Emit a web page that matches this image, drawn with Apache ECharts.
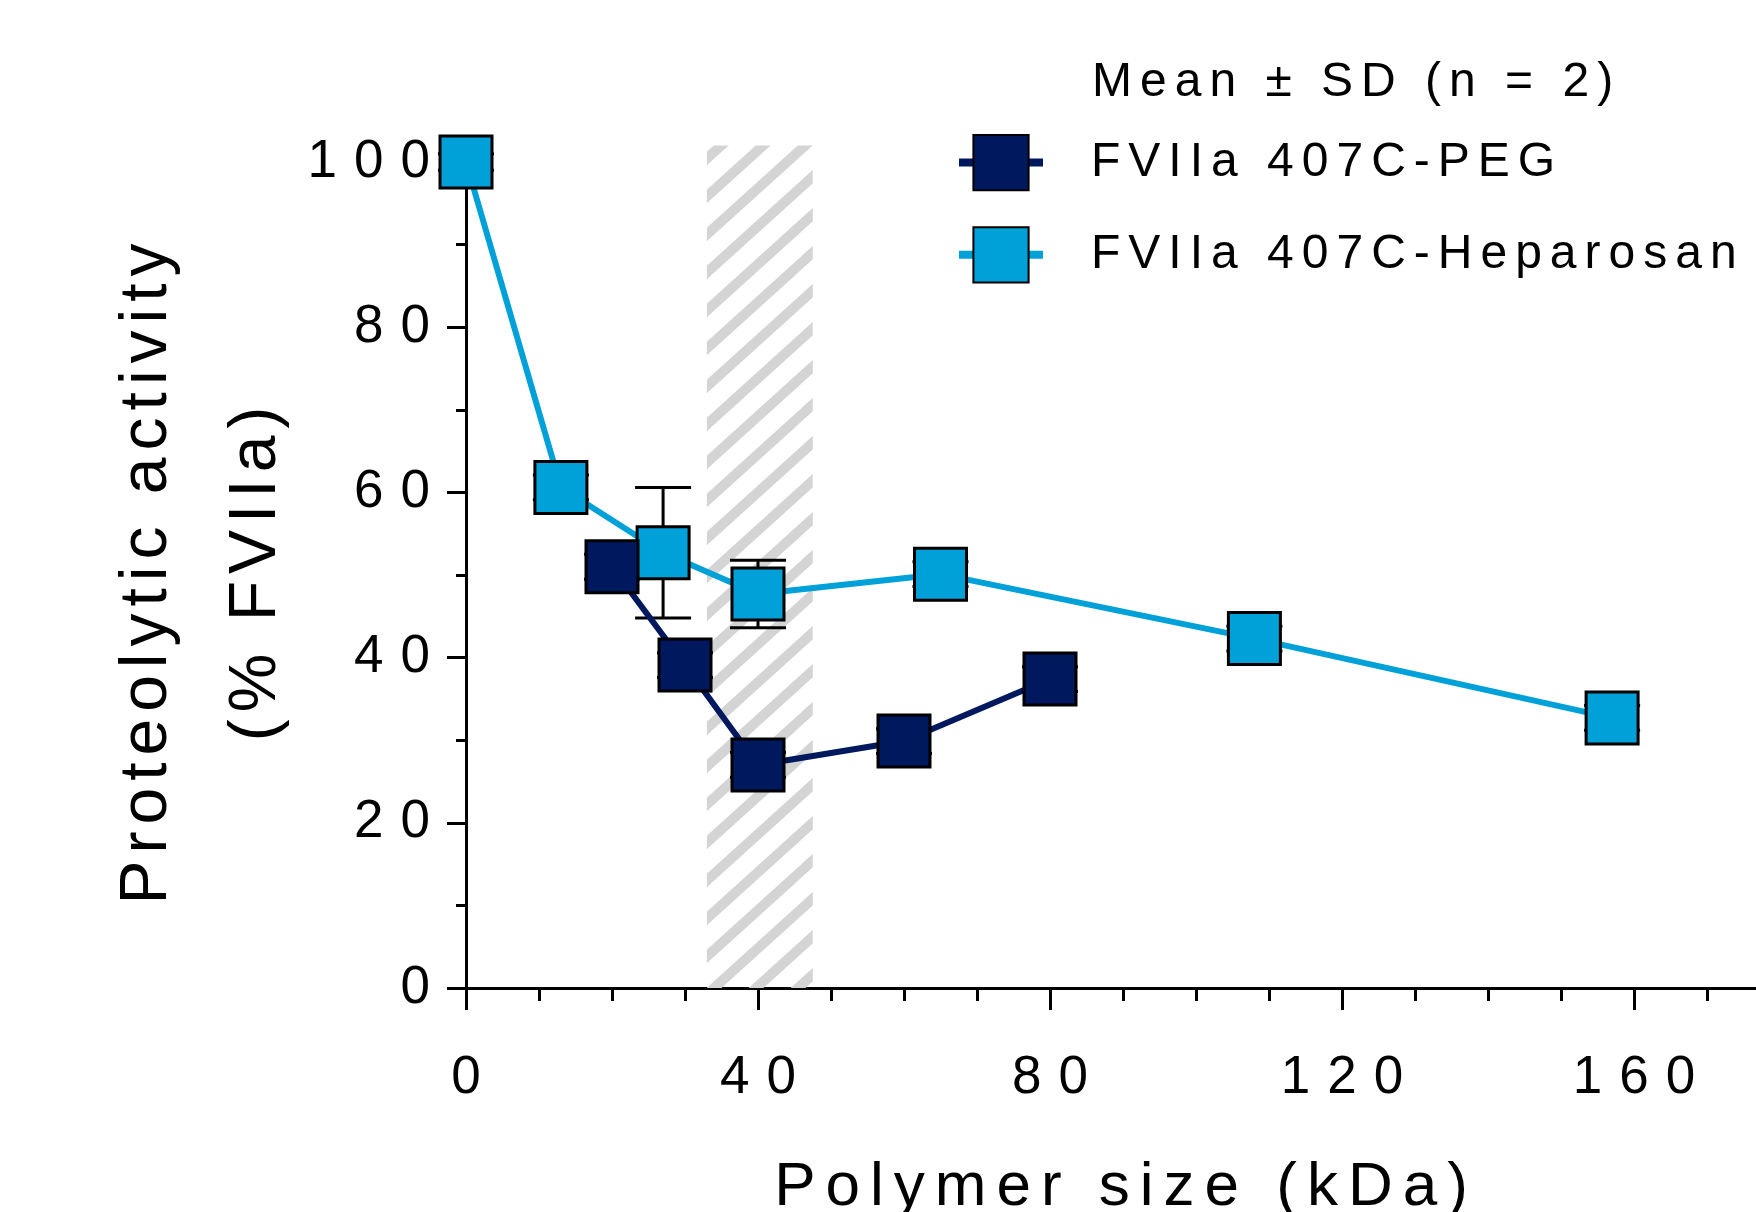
<!DOCTYPE html>
<html>
<head>
<meta charset="utf-8">
<title>Proteolytic activity vs polymer size</title>
<script src="https://cdn.jsdelivr.net/npm/echarts@6/dist/echarts.min.js"></script>
<style>
  html, body { margin: 0; padding: 0; background: #fff; }
  #chart { width: 1756px; height: 1212px; }
</style>
</head>
<body>
<div id="chart"></div>
<script>
// data
var pegSize = [20, 30, 40, 60, 80];
var pegMean = [51.0, 39.1, 27.0, 29.9, 37.4];
var pegSd = [1.5, 1.5, 1.5, 1.5, 1.5];

var hepSize = [0, 13, 27, 40, 65, 108, 157];
var hepMean = [100, 60.6, 52.7, 47.7, 50.1, 42.3, 32.7];
var hepSd = [1, 1.5, 7.9, 4.1, 1.5, 1.5, 1.5];

var band = [[33, 47.5, 102]];   // hatched region: from kDa, to kDa, top

var xTicks = { min: 0, max: 200, interval: 40 };
var yTicks = { min: 0, max: 100, interval: 20 };

var FONT = 'Liberation Sans';
var NAVY = '#00195e';
var CYAN = '#00a0d8';

// the figure uses wide letter spacing; canvas can do it, echarts has no option for it
var spacingBySize = { 53: 17, 66: 7, 62: 10, 48: 8 };
var fontDesc = Object.getOwnPropertyDescriptor(CanvasRenderingContext2D.prototype, 'font');
Object.defineProperty(CanvasRenderingContext2D.prototype, 'font', {
  get: function () { return fontDesc.get.call(this); },
  set: function (v) {
    fontDesc.set.call(this, v);
    if ('letterSpacing' in this) {
      var m = /(\d+(?:\.\d+)?)px/.exec(v);
      var s = m ? spacingBySize[Math.round(parseFloat(m[1]))] : 0;
      this.letterSpacing = (s || 0) + 'px';
    }
  }
});

function zip(xs, ys) {
  return xs.map(function (x, i) { return [x, ys[i]]; });
}
function errRows(xs, ys, sds) {
  return xs.map(function (x, i) { return [x, ys[i] - sds[i], ys[i] + sds[i]]; });
}

// hatch pattern for the band
var tile = document.createElement('canvas');
tile.width = 42; tile.height = 38;
var tc = tile.getContext('2d');
tc.strokeStyle = '#d4d4d4';
tc.lineWidth = 10;
tc.beginPath();
tc.moveTo(-11, 48); tc.lineTo(53, -10);
tc.moveTo(-11, 10); tc.lineTo(11, -10);
tc.moveTo(31, 48); tc.lineTo(53, 28);
tc.stroke();

function renderBand(params, api) {
  var a = api.coord([api.value(0), 0]);
  var b = api.coord([api.value(1), api.value(2)]);
  return {
    type: 'rect',
    shape: { x: a[0], y: b[1], width: b[0] - a[0], height: a[1] - b[1] },
    style: { fill: { image: tile, repeat: 'repeat' } }
  };
}

function renderErr(params, api) {
  var x = api.value(0);
  var lo = api.coord([x, api.value(1)]);
  var hi = api.coord([x, api.value(2)]);
  var w = 28;
  var st = { stroke: '#000', lineWidth: 3 };
  return {
    type: 'group',
    children: [
      { type: 'line', shape: { x1: lo[0], y1: lo[1], x2: hi[0], y2: hi[1] }, style: st },
      { type: 'line', shape: { x1: lo[0] - w, y1: lo[1], x2: lo[0] + w, y2: lo[1] }, style: st },
      { type: 'line', shape: { x1: hi[0] - w, y1: hi[1], x2: hi[0] + w, y2: hi[1] }, style: st }
    ]
  };
}

var chart = echarts.init(document.getElementById('chart'));

var option = {
  animation: false,
  backgroundColor: '#fff',
  textStyle: { fontFamily: FONT, color: '#000' },
  title: {
    text: 'Mean ± SD (n = 2)',
    left: 1092,
    top: 55,
    padding: 0,
    textStyle: { fontFamily: FONT, fontSize: 48, fontWeight: 'normal', color: '#000' }
  },
  legend: {
    data: ['FVIIa 407C-PEG', 'FVIIa 407C-Heparosan'],
    orient: 'vertical',
    left: 950,
    top: 129,
    itemWidth: 84,
    itemHeight: 69,
    itemGap: 35,
    lineStyle: { width: 8 },
    textStyle: { fontFamily: FONT, fontSize: 48, color: '#000', padding: [0, 0, 0, 43] }
  },
  grid: { left: 466, top: 162, bottom: 224, right: -170, outerBoundsMode: 'none' },
  xAxis: {
    type: 'value',
    min: xTicks.min,
    max: xTicks.max,
    interval: xTicks.interval,
    name: 'Polymer size (kDa)',
    nameLocation: 'middle',
    nameGap: 164,
    nameMoveOverlap: false,
    nameTextStyle: { fontFamily: FONT, fontSize: 62, color: '#000', padding: [0, 140, 0, 0] },
    axisLine: { lineStyle: { color: '#000', width: 3 } },
    axisTick: { length: 22, lineStyle: { color: '#000', width: 3 } },
    minorTick: { show: true, splitNumber: 4, length: 13, lineStyle: { color: '#000', width: 3 } },
    splitLine: { show: false },
    axisLabel: { fontFamily: FONT, fontSize: 53, color: '#000', margin: 55, padding: [0, 0, 0, 17] }
  },
  yAxis: {
    type: 'value',
    min: yTicks.min,
    max: yTicks.max,
    interval: yTicks.interval,
    name: 'Proteolytic activity\n(% FVIIa)',
    nameLocation: 'middle',
    nameRotate: 90,
    nameGap: 155,
    nameMoveOverlap: false,
    nameTextStyle: { fontFamily: FONT, fontSize: 66, lineHeight: 109, color: '#000', padding: [0, 0, 0, 9] },
    axisLine: { lineStyle: { color: '#000', width: 3 } },
    axisTick: { length: 19, lineStyle: { color: '#000', width: 3 } },
    minorTick: { show: true, splitNumber: 2, length: 10, lineStyle: { color: '#000', width: 3 } },
    splitLine: { show: false },
    axisLabel: { fontFamily: FONT, fontSize: 53, color: '#000', margin: 19 }
  },
  series: [
    {
      name: 'band',
      type: 'custom',
      renderItem: renderBand,
      data: band,
      z: 1,
      clip: false,
      silent: true
    },
    {
      name: 'hep-sd',
      type: 'custom',
      renderItem: renderErr,
      data: errRows(hepSize, hepMean, hepSd),
      z: 2,
      silent: true
    },
    {
      name: 'peg-sd',
      type: 'custom',
      renderItem: renderErr,
      data: errRows(pegSize, pegMean, pegSd),
      z: 2,
      silent: true
    },
    {
      name: 'FVIIa 407C-Heparosan',
      type: 'line',
      data: zip(hepSize, hepMean),
      z: 3,
      symbol: 'rect',
      symbolSize: 52,
      clip: false,
      lineStyle: { color: CYAN, width: 6 },
      itemStyle: { color: CYAN, borderColor: '#000', borderWidth: 3 }
    },
    {
      name: 'FVIIa 407C-PEG',
      type: 'line',
      data: zip(pegSize, pegMean),
      z: 4,
      symbol: 'rect',
      symbolSize: 52,
      lineStyle: { color: NAVY, width: 6 },
      itemStyle: { color: NAVY, borderColor: '#000', borderWidth: 3 }
    }
  ]
};

chart.setOption(option);
</script>
</body>
</html>
